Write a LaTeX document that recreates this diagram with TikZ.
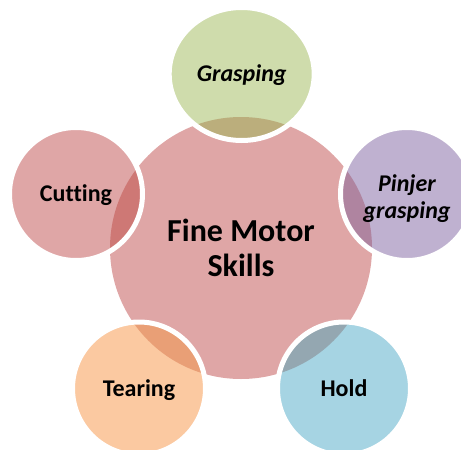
\documentclass[tikz,border=0pt]{standalone}
\usepackage{fontspec}
\setmainfont[Ligatures=NoCommon]{Carlito}
\usetikzlibrary{shapes.geometric}
\definecolor{mainc}{HTML}{DFA6A6}
\definecolor{greenc}{HTML}{CFDCAC}
\definecolor{greeno}{HTML}{BBAE7C}
\definecolor{purplec}{HTML}{BFB1D0}
\definecolor{purpleo}{HTML}{AF84A0}
\definecolor{bluec}{HTML}{A6D4E3}
\definecolor{blueo}{HTML}{94A7B1}
\definecolor{orangec}{HTML}{FBC9A1}
\definecolor{orangeo}{HTML}{E99F76}
\definecolor{cutc}{HTML}{DFA6A6}
\definecolor{cuto}{HTML}{CE7875}
\tikzset{
  hub/.style={circle,fill=mainc,minimum size=262pt,inner sep=0pt,outer sep=0pt,align=center,
    font=\fontsize{32}{35}\selectfont\bfseries},
  sat/.style n args={2}{ellipse,draw=white,line width=5pt,fill=#1,minimum width=133pt,minimum height=133pt,
    inner sep=0pt,outer sep=0pt,align=center,
    font=\fontsize{24}{27}\selectfont\bfseries,
    path picture={\fill[#2] (hub) circle [radius=131pt];}},
  oneline/.style={text height=20pt,text depth=4.5pt},
  slanted/.style={font=\fontsize{24}{27}\selectfont\bfseries\itshape}
}
\begin{document}
\begin{tikzpicture}[x=1pt,y=-1pt]
\useasboundingbox (0,0) rectangle (461,450);
\clip (0,0) rectangle (461,450);
\node[hub,text height=60pt,text depth=3pt] (hub) at (241,248) {Fine Motor\\Skills};
\node[sat={greenc}{greeno},slanted,oneline,minimum width=145pt] (grasp) at (241.7,74) {Grasping};
\node[sat={purplec}{purpleo},slanted,text height=50pt,text depth=2pt] (pinjer) at (407,194) {Pinjer\\grasping};
\node[sat={orangec}{orangeo},oneline] (tear) at (139,388.5) {Tearing};
\node[sat={bluec}{blueo},oneline] (hold) at (344,388.5) {Hold};
\node[sat={cutc}{cuto},oneline] (cut) at (76,194) {Cutting};
\end{tikzpicture}
\end{document}
